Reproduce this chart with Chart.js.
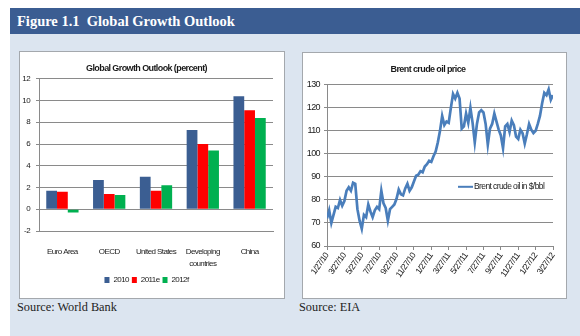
<!DOCTYPE html>
<html>
<head>
<meta charset="utf-8">
<script src="https://cdn.jsdelivr.net/npm/chart.js@4.4.1/dist/chart.umd.min.js"></script>
<style>
  html, body { margin: 0; padding: 0; background: #ffffff; }
  body { width: 580px; height: 336px; position: relative; overflow: hidden; }
  #header {
    position: absolute; left: 10px; top: 8px; width: 570px; height: 26px;
    background: #3b5d92; color: #ffffff;
    font: bold 14.5px 'Liberation Serif', 'Times New Roman', serif;
    line-height: 26px; padding-left: 7px; box-sizing: border-box;
  }
  #backdrop { position: absolute; left: 10px; top: 34px; width: 570px; height: 302px; background: #dce5f0; }
  .panel { position: absolute; background: #ffffff; border: 1px solid #a4a8ad; }
  .panel canvas { display: block; }
  .source { position: absolute; font: 12.3px 'Liberation Serif', 'Times New Roman', serif; color: #222; }
</style>
</head>
<body>
<div id="backdrop"></div>
<div id="header">Figure 1.1&nbsp;&nbsp;Global Growth Outlook</div>
<div class="panel" style="left:19px; top:51px; width:264px; height:246px;">
  <canvas id="growthChart" width="264" height="246"></canvas>
</div>
<div class="panel" style="left:302px; top:52px; width:263px; height:245px;">
  <canvas id="brentChart" width="263" height="245"></canvas>
</div>
<div class="source" style="left:17px; top:300px;">Source: World Bank</div>
<div class="source" style="left:299px; top:300px;">Source: EIA</div>

<script>
// Growth outlook by region (percent)
const regions = ['Euro Area', 'OECD', 'United States', ['Developing', 'countries'], 'China'];
const growth2010 = [1.7, 2.7, 3.0, 7.3, 10.4];
const growth2011e = [1.6, 1.4, 1.7, 6.0, 9.1];
const growth2012f = [-0.3, 1.3, 2.2, 5.4, 8.4];

// Brent spot price, one reading per quarter month from 1/27/10
const brentPrices = [
  72, 75.5, 70, 73.5, 77, 76.5, 80, 77.5, 79.5, 84, 85.5, 84, 87.5,
  87, 76, 71, 67.5, 73.5, 72.5, 78, 75, 72.5, 75.5, 77, 76,
  84, 78.5, 76.5, 71, 76, 77, 78, 80.5, 84.5, 82.5, 82, 85,
  87, 84, 85.5, 88, 90.5, 91, 92.5, 92, 94.5, 95.5, 97, 96.5,
  99, 101, 105, 110, 116.5, 112.5, 114, 113.5, 120, 126, 124, 126.5,
  124, 111, 112, 117.5, 113.5, 120, 113.5, 105, 113, 118, 119, 118,
  113, 104, 111, 113, 117.5, 114, 110.5, 108, 102.5, 112, 113, 109.5,
  114.5, 112.5, 107.5, 106.5, 110.5, 109, 104.5, 108.5, 113, 110.5, 109, 110,
  113, 116.5, 122, 126.5, 125.5, 128, 123.5, 125.5
];
const brentDateTicks = ['1/27/10', '3/27/10', '5/27/10', '7/27/10', '9/27/10', '11/27/10', '1/27/11',
  '3/27/11', '5/27/11', '7/27/11', '9/27/11', '11/27/11', '1/27/12', '3/27/12'];

const sans = "'Liberation Sans', Arial, sans-serif";
Chart.defaults.font.family = sans;
Chart.defaults.color = '#1a1a1a';
Chart.defaults.animation = false;

// tighter lettering so the labels keep the narrow look of the original charts
Chart.register({
  id: 'tightText',
  beforeLayout(chart) { chart.ctx.letterSpacing = '-0.6px'; },
  beforeDraw(chart) { chart.ctx.letterSpacing = '-0.6px'; }
});

const gridGrey = '#8a8a8a';

new Chart(document.getElementById('growthChart'), {
  type: 'bar',
  data: {
    labels: regions,
    datasets: [
      { label: '2010', data: growth2010, backgroundColor: '#3b5e92' },
      { label: '2011e', data: growth2011e, backgroundColor: '#ff0000' },
      { label: '2012f', data: growth2012f, backgroundColor: '#00b050' }
    ]
  },
  options: {
    responsive: false,
    layout: { padding: { top: 11, right: 11, bottom: 4, left: 0 } },
    datasets: { bar: { categoryPercentage: 0.69, barPercentage: 1.0 } },
    plugins: {
      title: {
        display: true, text: 'Global Growth Outlook (percent)',
        font: { size: 9, weight: 'bold' }, padding: { top: 0, bottom: 5 }
      },
      legend: {
        position: 'bottom',
        labels: { boxWidth: 5, boxHeight: 6, font: { size: 8 }, padding: 3 }
      },
      tooltip: { enabled: false }
    },
    scales: {
      x: {
        grid: { display: false, drawTicks: false },
        border: { color: gridGrey },
        ticks: { font: { size: 8, lineHeight: 1.6 }, padding: 14, maxRotation: 0, autoSkip: false },
        afterFit: s => { s.height = 42; }
      },
      y: {
        min: -2, max: 12,
        ticks: { stepSize: 2, font: { size: 8 }, padding: 6 },
        grid: { color: gridGrey, tickLength: 3 },
        border: { color: gridGrey },
        afterFit: s => { s.width = 19; }
      }
    }
  }
});

// draws the series key inside the plot, below the price line
const brentKey = {
  id: 'brentKey',
  afterDraw(chart) {
    const { ctx, chartArea } = chart;
    const ds = chart.data.datasets[0];
    const x = chartArea.left + 131;
    const y = chartArea.top + 102;
    ctx.save();
    ctx.strokeStyle = ds.borderColor;
    ctx.lineWidth = 2;
    ctx.beginPath();
    ctx.moveTo(x, y);
    ctx.lineTo(x + 15, y);
    ctx.stroke();
    ctx.fillStyle = '#1a1a1a';
    ctx.font = '8.5px ' + sans;
    ctx.textBaseline = 'middle';
    ctx.fillText(ds.label, x + 16, y);
    ctx.restore();
  }
};

new Chart(document.getElementById('brentChart'), {
  type: 'line',
  data: {
    datasets: [{
      label: 'Brent crude oil in $/bbl',
      data: brentPrices.map((p, i) => ({ x: i / 4, y: p })),
      borderColor: '#4a7ebb',
      borderWidth: 2.7,
      pointRadius: 0,
      tension: 0
    }]
  },
  options: {
    responsive: false,
    layout: { padding: { top: 11, right: 13, bottom: 8, left: 0 } },
    plugins: {
      title: {
        display: true, text: 'Brent crude oil price',
        font: { size: 9, weight: 'bold' }, padding: { top: 0, bottom: 10 }
      },
      legend: { display: false },
      tooltip: { enabled: false }
    },
    scales: {
      x: {
        type: 'linear', min: 0, max: 26,
        grid: { drawOnChartArea: false, tickLength: 4, color: gridGrey },
        border: { color: gridGrey },
        ticks: {
          stepSize: 2, font: { size: 8.5 }, minRotation: 55, maxRotation: 55, padding: 1,
          callback: v => brentDateTicks[v / 2]
        },
        afterFit: s => { s.height = 44; }
      },
      y: {
        min: 60, max: 130,
        ticks: { stepSize: 10, font: { size: 9 }, padding: 4 },
        grid: { color: gridGrey, tickLength: 3 },
        border: { color: gridGrey },
        afterFit: s => { s.width = 24; }
      }
    }
  },
  plugins: [brentKey]
});
</script>
</body>
</html>
